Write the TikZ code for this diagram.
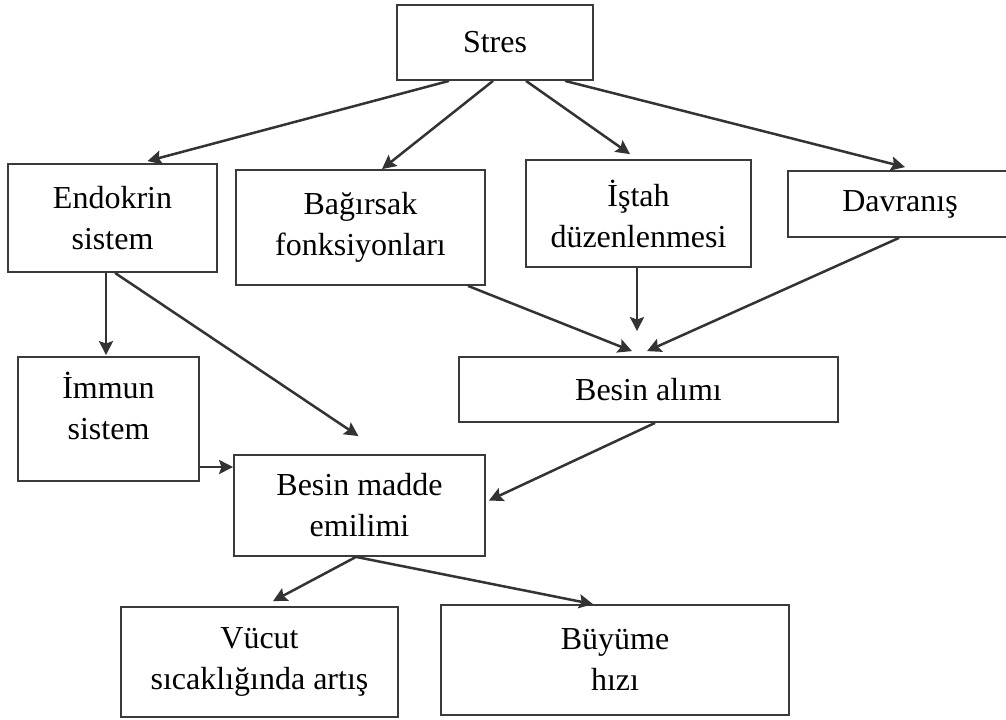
\documentclass[tikz,border=0pt]{standalone}
\usepackage{fontspec}
\setmainfont{Liberation Serif}
\usetikzlibrary{arrows.meta,calc}
\definecolor{ink}{HTML}{333333}
\definecolor{frame}{HTML}{3A3A3A}
\begin{document}
\begin{tikzpicture}[x=0.5pt,y=-0.5pt,
  box/.style={draw=frame,line width=0.9pt,fill=white,rectangle,inner sep=0pt,
    align=center,font=\fontsize{16}{20.5}\selectfont},
  arr/.style={draw=ink,line width=1.25pt,
    -{Stealth[length=7pt,width=7pt,inset=1.2pt]}}]
\useasboundingbox (0,0) rectangle (1006,719);
\fill[white] (0,0) rectangle (1006,719);

% boxes
\node[box,minimum width=98pt,minimum height=37.5pt] (stres) at (495,42.5) {Stres};
\node[box,minimum width=104.5pt,minimum height=54pt] (endo) at (112.5,218) {Endokrin\\sistem};
\node[box,minimum width=124.5pt,minimum height=57.5pt] (bag) at (360.5,227.5) {Bağırsak\\fonksiyonları};
\node[box,minimum width=112.5pt,minimum height=53.5pt] (istah) at (638.5,213.5) {İştah\\düzenlenmesi};
\node[box,minimum width=112pt,minimum height=33pt] (davr) at (900,204) {Davranış};
\node[box,minimum width=189.5pt,minimum height=32.5pt] (alim) at (648.5,389.5) {Besin alımı};
\node[box,minimum width=90.5pt,minimum height=62pt] (immun) at (108.5,419) {İmmun\\sistem\rule[-13pt]{0pt}{13pt}};
\node[box,minimum width=125.5pt,minimum height=50.5pt] (madde) at (359.5,505.5) {Besin madde\\emilimi};
\node[box,minimum width=138.5pt,minimum height=55pt] (vucut) at (259.5,662) {Vücut\\sıcaklığında artış};
\node[box,minimum width=174pt,minimum height=55pt] (buyume) at (615,660) {Büyüme\\hızı};

% connectors
\draw[arr] ($(stres.south)+(-46,0)$) -- ($(endo.north)+(35,-2)$);
\draw[arr] ($(stres.south)+(-2,0)$) -- ($(bag.north)+(21.5,0)$);
\draw[arr] ($(stres.south)+(31,0)$) -- ($(istah.north)+(-8.5,-5)$);
\draw[arr] ($(stres.south)+(70,0)$) -- ($(davr.north)+(5,-3)$);
\draw[arr] ($(endo.south)+(-6.5,0)$) -- ($(immun.north)+(-2.5,-1)$);
\draw[arr] ($(endo.south)+(2.5,0)$) -- ($(madde.north)+(-1,-18)$);
\draw[arr] ($(immun.east)+(0,48)$) -- ($(madde.west)+(0,-38.5)$);
\draw[arr] ($(bag.south)+(107.5,0)$) -- ($(alim.north)+(-16.5,-5)$);
\draw[arr] ($(istah.south)+(-1.5,0)$) -- ($(alim.north)+(-11.5,-25)$);
\draw[arr] ($(davr.south)+(-1,0)$) -- ($(alim.north)+(-1.5,-5)$);
\draw[arr] ($(alim.south)+(6.5,0)$) -- ($(madde.east)+(3,-5)$);
\draw[arr] ($(madde.south)+(-3.5,0)$) -- ($(vucut.north)+(13.5,-5)$);
\draw[arr] ($(madde.south)+(-3.5,0)$) -- ($(buyume.north)+(-22,0)$);
\end{tikzpicture}
\end{document}
